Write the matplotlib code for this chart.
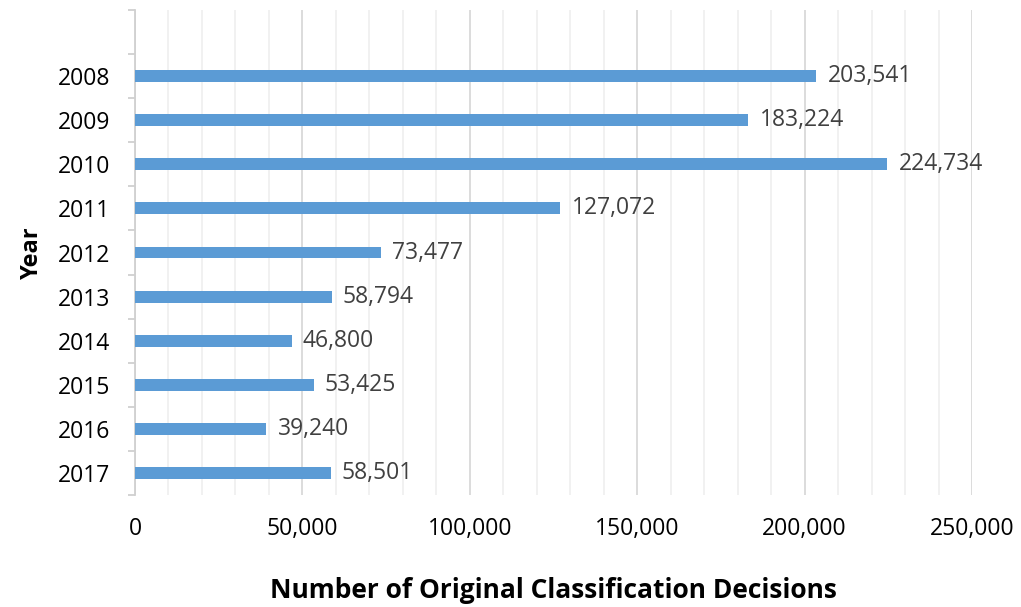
import matplotlib.pyplot as plt
from matplotlib.ticker import FuncFormatter, MultipleLocator, FixedLocator

# data: original classification decisions per year
years = ["2008", "2009", "2010", "2011", "2012", "2013", "2014", "2015", "2016", "2017"]
decisions = [203541, 183224, 224734, 127072, 73477, 58794, 46800, 53425, 39240, 58501]

bar_color = "#5b9bd5"
text_color = "#404040"

plt.rcParams["font.family"] = ["Open Sans", "DejaVu Sans"]

fig = plt.figure(figsize=(10.21, 6.07), dpi=100)
ax = fig.add_axes([135 / 1021, 1 - 495 / 607, (972 - 135) / 1021, (495 - 10) / 607])

pos = list(range(len(years)))
ax.barh(pos, decisions, height=0.27, color=bar_color, zorder=3)

# value labels right of each bar
for y, v in zip(pos, decisions):
    ax.annotate(f"{v:,}", (v, y), xytext=(8, 0), textcoords="offset points",
                va="center", ha="left", fontsize=16.5, color=text_color)

ax.set_xlim(0, 250000)
ax.set_ylim(len(years) - 0.5, -1.5)

# x axis: labels only, grid every 10k with darker lines each 50k
ax.xaxis.set_major_locator(MultipleLocator(50000))
ax.xaxis.set_minor_locator(MultipleLocator(10000))
ax.xaxis.set_major_formatter(FuncFormatter(lambda x, p: f"{int(x):,}"))
ax.grid(axis="x", which="major", color="#d9d9d9", lw=1.3, zorder=0)
ax.grid(axis="x", which="minor", color="#eeeeee", lw=1.1, zorder=0)
ax.tick_params(axis="x", which="both", length=0, pad=16, labelsize=16.5, labelcolor="black")

# y axis: year labels, tick marks between categories
ax.set_yticks(pos)
ax.set_yticklabels(years)
ax.yaxis.set_minor_locator(FixedLocator([p - 0.5 for p in range(-1, len(years) + 1)]))
ax.tick_params(axis="y", which="major", length=0, pad=18, labelsize=16.5)
ax.tick_params(axis="y", which="minor", length=5, width=1.3, color="#d0d0d0")

for side in ["top", "right", "bottom"]:
    ax.spines[side].set_visible(False)
ax.spines["left"].set_color("#d0d0d0")
ax.spines["left"].set_linewidth(1.3)

ax.set_xlabel("Number of Original Classification Decisions", fontsize=19,
              fontweight="bold", labelpad=26)
ax.set_ylabel("Year", fontsize=17, fontweight="bold", labelpad=10)

fig.savefig("out.png", dpi=100)
